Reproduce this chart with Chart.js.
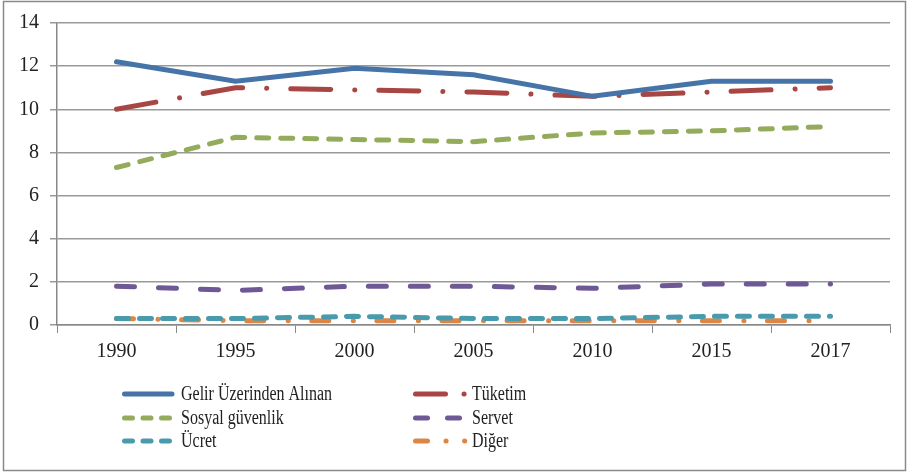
<!DOCTYPE html>
<html>
<head>
<meta charset="utf-8">
<script src="https://cdn.jsdelivr.net/npm/chart.js@4.4.1/dist/chart.umd.min.js"></script>
<style>
  html, body { margin: 0; padding: 0; background: #fff; }
  #wrap { width: 909px; height: 473px; }
</style>
</head>
<body>
<div id="wrap"><canvas id="myChart" width="909" height="473"></canvas></div>
<script>
let years = ['1990', '1995', '2000', '2005', '2010', '2015', '2017'];

let gelir = [12.2, 11.3, 11.9, 11.6, 10.6, 11.3, 11.3];
let tuketim = [10.0, 11.0, 10.9, 10.8, 10.6, 10.8, 11.0];
let sosyal = [7.3, 8.7, 8.6, 8.5, 8.9, 9.0, 9.2];
let servet = [1.8, 1.6, 1.8, 1.8, 1.7, 1.9, 1.9];
let ucret = [0.3, 0.3, 0.4, 0.3, 0.3, 0.4, 0.4];
let diger = [0.3, 0.2, 0.2, 0.2, 0.2, 0.2, 0.2];

let seriesNames = ['Gelir Üzerinden Alınan', 'Tüketim', 'Sosyal güvenlik', 'Servet', 'Ücret', 'Diğer'];

let fontFamily = '"Liberation Serif", "Times New Roman", serif';

// legend drawn by hand: two columns, three rows, slightly condensed text
let legendPlugin = {
  id: 'twoColLegend',
  afterDraw(chart) {
    let ctx = chart.ctx;
    let cols = [122, 413];
    let rows = [394, 418, 441];
    let legendDash = [[], [30, 18.5, 0.1, 100], [8, 10.5], [12, 20], [8, 10.5], [12, 18.5, 0.1, 18.5, 0.1, 100]];
    let swatchEnd = [50, 53, 50, 50, 50, 53];
    chart.data.datasets.forEach((ds, i) => {
      let x = cols[i % 2];
      let y = rows[Math.floor(i / 2)];
      ctx.save();
      ctx.strokeStyle = ds.borderColor;
      ctx.lineWidth = 5;
      ctx.lineCap = 'round';
      ctx.setLineDash(legendDash[i]);
      ctx.beginPath();
      ctx.moveTo(x + 2.5, y);
      ctx.lineTo(x + swatchEnd[i], y);
      ctx.stroke();
      ctx.setLineDash([]);
      ctx.fillStyle = '#222';
      ctx.font = '20px ' + fontFamily;
      ctx.textBaseline = 'middle';
      ctx.translate(x + 59, y + 1);
      ctx.scale(0.8, 1);
      ctx.fillText(ds.label, 0, 0);
      ctx.restore();
    });
  }
};

let borderPlugin = {
  id: 'outerBorder',
  beforeDraw(chart) {
    let ctx = chart.ctx;
    ctx.save();
    ctx.fillStyle = '#fff';
    ctx.fillRect(0, 0, chart.width, chart.height);
    ctx.strokeStyle = '#8a8a8a';
    ctx.lineWidth = 1.5;
    ctx.strokeRect(3.5, 1.5, 902, 469);
    ctx.restore();
  }
};

let myChart = document.getElementById('myChart');

let lineChart = new Chart(myChart, {
  type: 'line',
  data: {
    labels: years,
    datasets: [{
      label: seriesNames[0],
      data: gelir,
      borderColor: '#4674a8',
      borderWidth: 5,
      borderCapStyle: 'round'
    }, {
      label: seriesNames[1],
      data: tuketim,
      borderColor: '#a84644',
      borderWidth: 5,
      borderCapStyle: 'round',
      borderDash: [40, 24, 0.1, 24]
    }, {
      label: seriesNames[2],
      data: sosyal,
      borderColor: '#93ab5a',
      borderWidth: 5,
      borderCapStyle: 'round',
      borderDash: [12, 12]
    }, {
      label: seriesNames[3],
      data: servet,
      borderColor: '#6e5896',
      borderWidth: 5,
      borderCapStyle: 'round',
      borderDash: [18, 24]
    }, {
      label: seriesNames[4],
      data: ucret,
      borderColor: '#4a9aae',
      borderWidth: 5,
      borderCapStyle: 'round',
      borderDash: [12, 11]
    }, {
      label: seriesNames[5],
      data: diger,
      borderColor: '#dc8646',
      borderWidth: 5,
      borderCapStyle: 'round',
      borderDash: [17, 24.5, 0.1, 23.5]
    }]
  },
  options: {
    responsive: false,
    animation: false,
    layout: {
      padding: { left: 0, top: 20, right: 19, bottom: 0 }
    },
    elements: {
      point: { radius: 0, hoverRadius: 0 },
      line: { tension: 0, fill: false }
    },
    plugins: {
      legend: { display: false },
      tooltip: { enabled: false }
    },
    scales: {
      x: {
        offset: true,
        grid: {
          offset: true,
          drawOnChartArea: false,
          drawTicks: true,
          tickLength: 8,
          color: '#888'
        },
        border: { color: '#888', width: 1.5 },
        ticks: {
          color: '#222',
          font: { family: fontFamily, size: 20 },
          padding: 7,
          maxRotation: 0
        },
        afterFit(scale) { scale.height = 148; }
      },
      y: {
        min: 0,
        max: 14,
        ticks: {
          stepSize: 2,
          color: '#222',
          font: { family: fontFamily, size: 20 },
          padding: 11
        },
        grid: {
          color: '#999',
          lineWidth: 1.5,
          tickLength: 7
        },
        border: { color: '#888', width: 1.5 },
        afterFit(scale) { scale.width = 57; }
      }
    }
  },
  plugins: [borderPlugin, legendPlugin]
});
</script>
</body>
</html>
